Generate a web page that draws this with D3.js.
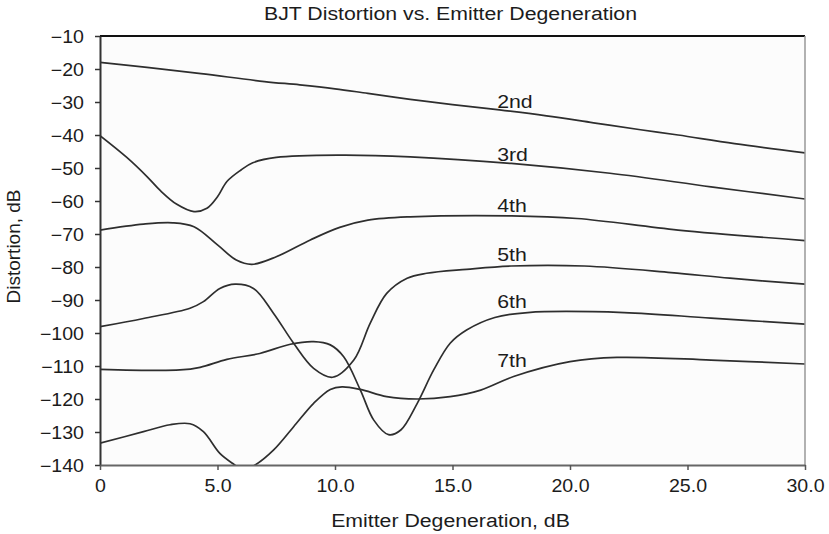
<!DOCTYPE html>
<html><head><meta charset="utf-8">
<script src="https://cdn.jsdelivr.net/npm/d3@7"></script>
<style>
body{margin:0;background:#fff;}
text{font-family:"Liberation Sans",Arial,Helvetica,sans-serif;fill:#1c1c1c;}
</style>
</head><body>
<svg id="chart" width="829" height="534"></svg>
<script>
// ---- data ----
const chartTitle = "BJT Distortion vs. Emitter Degeneration";
const xTitle = "Emitter Degeneration, dB";
const yTitle = "Distortion, dB";
const xTickValues = [0, 5, 10, 15, 20, 25, 30];
const xTickLabels = ["0", "5.0", "10.0", "15.0", "20.0", "25.0", "30.0"];
const yTickValues = [-10, -20, -30, -40, -50, -60, -70, -80, -90, -100, -110, -120, -130, -140];
const yTickLabels = ["\u221210","\u221220","\u221230","\u221240","\u221250","\u221260","\u221270","\u221280","\u221290","\u2212100","\u2212110","\u2212120","\u2212130","\u2212140"];
const seriesNames = ["2nd", "3rd", "4th", "5th", "6th", "7th"];

const h2x = [0, 2, 4.3, 7, 8.5, 10, 11.4, 13.2, 15, 17, 19, 21, 23, 24.6, 27, 30];
const h2y = [-18, -19.5, -21.4, -23.8, -24.8, -26, -27.4, -29.2, -30.8, -32.4, -34.2, -36.3, -38.4, -40, -42.6, -45.4];

const h3x = [0, 1.14, 2, 2.56, 3.27, 4, 4.55, 5, 5.4, 6, 6.5, 7.5, 10.2, 13.2, 17.5, 21.7, 26, 30];
const h3y = [-40.2, -46.8, -52.6, -56.8, -61, -63.2, -62.2, -58.7, -54.1, -50.6, -48.4, -46.8, -46.1, -46.6, -48.6, -51.6, -55.7, -59.4];

const h4x = [0, 1.85, 3.1, 4, 5, 5.8, 6.46, 7.5, 8.95, 10.2, 11.4, 13.2, 17.5, 20.3, 24.6, 30];
const h4y = [-68.8, -67, -66.6, -67.8, -73.3, -77.9, -79.2, -76.9, -71.8, -68, -65.8, -64.8, -64.5, -65.3, -68.8, -72];

const h5x = [0, 1.85, 3.83, 4.4, 5.1, 5.75, 6.53, 7.38, 8.24, 9.09, 9.9, 10.8, 11.5, 12.2, 13.07, 13.9, 15.6, 17.5, 20.6, 24.3, 26.8, 30];
const h5y = [-98.1, -95.6, -92.5, -90.5, -86.5, -85.2, -86.5, -94, -103.1, -110.7, -113.4, -108.2, -97, -88, -83.4, -81.9, -80.7, -79.7, -79.7, -81.7, -83.4, -85.2];

const h6x = [0, 3.4, 4.26, 5.4, 6.8, 8.1, 9.09, 9.8, 10.37, 11.08, 11.65, 12.28, 12.8, 13.5, 14.2, 14.9, 15.6, 16.8, 18.2, 22.3, 26, 30];
const h6y = [-111, -111.2, -110.4, -108, -106.2, -103.4, -102.6, -103.6, -107.2, -117.3, -126.4, -130.8, -129.4, -121.3, -111.2, -103.1, -99.1, -95.3, -93.8, -93.8, -95.5, -97.3];

const h7x = [0, 1.85, 2.98, 3.83, 4.4, 5.1, 5.68, 6.1, 6.6, 7.38, 8.24, 9.09, 9.8, 10.3, 11.08, 12.2, 13.5, 14.9, 16.2, 17.6, 20, 22, 26, 30];
const h7y = [-133.4, -129.9, -127.8, -127.5, -129.9, -136.5, -139.7, -141.5, -140, -135.5, -128.4, -121.3, -117.1, -116.3, -117.1, -119.3, -120, -119.3, -117.3, -113.2, -108.7, -107.4, -108.2, -109.4];

const labelX = [16.9, 16.9, 16.9, 16.9, 16.9, 16.9];
const labelY = [-31.7, -47.9, -63.2, -78.3, -92.4, -110.3];

// ---- layout ----
const plotL = 100, plotR = 805, plotT = 36, plotB = 465;
const SX = 1.12; // horizontal stretch of the reference's lettering

const svg = d3.select("#chart");
const x = d3.scaleLinear().domain([0, 30]).range([plotL, plotR]);
const y = d3.scaleLinear().domain([-140, -10]).range([plotB, plotT]);

svg.append("rect").attr("x", plotL).attr("y", plotT).attr("width", plotR - plotL).attr("height", plotB - plotT).attr("fill", "#fcfcfc");

svg.append("defs").append("clipPath").attr("id", "clip")
  .append("rect").attr("x", plotL).attr("y", plotT).attr("width", plotR - plotL).attr("height", plotB - plotT);

const series = [[h2x, h2y], [h3x, h3y], [h4x, h4y], [h5x, h5y], [h6x, h6y], [h7x, h7y]];
const line = d3.line().x(d => x(d[0])).y(d => y(d[1])).curve(d3.curveCatmullRom.alpha(0.5));

svg.append("g").attr("clip-path", "url(#clip)").selectAll("path")
  .data(series.map(s => s[0].map((v, i) => [v, s[1][i]])))
  .join("path")
  .attr("d", line)
  .attr("fill", "none")
  .attr("stroke", "#2e2e2e")
  .attr("stroke-width", 1.7);

// frame: top (black) and right (grey)
svg.append("line").attr("x1", plotL).attr("x2", plotR).attr("y1", plotT).attr("y2", plotT).attr("stroke", "#111").attr("stroke-width", 2);
svg.append("line").attr("x1", plotR).attr("x2", plotR).attr("y1", plotT).attr("y2", plotB).attr("stroke", "#999").attr("stroke-width", 1.5);

function stretch(sel, xPos) {
  sel.attr("transform", `scale(${SX},1)`).attr("x", xPos / SX);
}

// y axis
const yAxis = svg.append("g").attr("transform", `translate(${plotL},0)`)
  .call(d3.axisLeft(y).tickValues(yTickValues).tickSize(5).tickSizeOuter(0)
    .tickFormat((d, i) => yTickLabels[i]));
yAxis.select(".domain").attr("stroke", "#333").attr("stroke-width", 2);
yAxis.selectAll(".tick line").attr("stroke", "#333").attr("stroke-width", 1.5);
yAxis.selectAll(".tick text").attr("font-size", 17.5).attr("font-family", "Liberation Sans, Arial, sans-serif")
  .attr("fill", "#1c1c1c").attr("dy", "0.35em").each(function () { stretch(d3.select(this), -16); });

// x axis
const xAxis = svg.append("g").attr("transform", `translate(0,${plotB})`)
  .call(d3.axisBottom(x).tickValues(xTickValues).tickSize(5).tickSizeOuter(0)
    .tickFormat((d, i) => xTickLabels[i]));
xAxis.select(".domain").attr("stroke", "#666").attr("stroke-width", 2);
xAxis.selectAll(".tick line").attr("stroke", "#555").attr("stroke-width", 1.5);
xAxis.selectAll(".tick text").attr("font-size", 17.5).attr("font-family", "Liberation Sans, Arial, sans-serif")
  .attr("fill", "#1c1c1c").attr("y", 27).attr("dy", 0).each(function () { stretch(d3.select(this), 0); });

// titles
svg.append("text").attr("font-size", 19).attr("text-anchor", "middle")
  .attr("transform", `translate(${(plotL + plotR) / 2 - 2},20) scale(${SX},1)`).text(chartTitle);
svg.append("text").attr("font-size", 19).attr("text-anchor", "middle")
  .attr("transform", `translate(${(plotL + plotR) / 2 - 2},527) scale(${SX},1)`).text(xTitle);
svg.append("text").attr("font-size", 19).attr("text-anchor", "middle")
  .attr("transform", `translate(20,${(plotT + plotB) / 2 - 4}) rotate(-90)`).text(yTitle);

// series labels
svg.append("g").selectAll("text").data(seriesNames).join("text")
  .attr("font-size", 19)
  .attr("transform", (d, i) => `translate(${x(labelX[i])},${y(labelY[i])}) scale(${SX},1)`)
  .text(d => d);
</script>
</body></html>
